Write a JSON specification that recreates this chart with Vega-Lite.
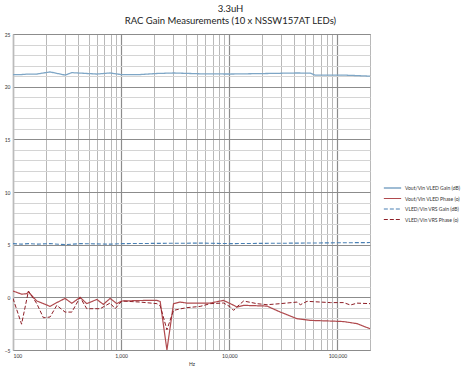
{
  "$schema": "https://vega.github.io/schema/vega-lite/v6.json",
  "width": 357,
  "height": 316,
  "autosize": {"type": "none"},
  "padding": {"left": 13, "top": 34, "right": 91, "bottom": 27},
  "background": "white",
  "title": {
    "text": ["3.3uH", "RAC Gain Measurements (10 x NSSW157AT LEDs)"],
    "font": "Lato",
    "fontSize": 9.5,
    "fontWeight": "normal",
    "color": "#222",
    "lineHeight": 12,
    "anchor": "middle",
    "dx": 39,
    "offset": 7
  },
  "config": {
    "view": {"stroke": "#999", "strokeWidth": 1},
    "font": "Lato"
  },
  "data": {
    "values": [
      {"f": 100, "g1": 21.14, "p1": 0.6, "g2": 5.1, "p2": -0.1},
      {"f": 120, "g1": 21.15, "p1": 0.3, "g2": 5.05, "p2": -2.55},
      {"f": 134, "p1": 0.35},
      {"f": 139, "g1": 21.2, "p1": 0.5, "g2": 5.1, "p2": 0.6},
      {"f": 166, "g1": 21.2, "p1": -0.35, "g2": 5.05, "p2": -0.6},
      {"f": 191, "p1": -0.6, "p2": -1.94},
      {"f": 220, "g1": 21.4, "p1": -0.86, "g2": 5.1, "p2": -1.87},
      {"f": 254, "p1": -0.5, "p2": -0.76},
      {"f": 303, "g1": 21.1, "p1": -0.1, "g2": 5.0, "p2": -1.4},
      {"f": 350, "g1": 21.33, "p1": -0.57, "p2": -1.4},
      {"f": 417, "p1": 0.0, "g2": 5.1, "p2": 0.0},
      {"f": 481, "p1": -0.6, "p2": -1.08},
      {"f": 596, "g1": 21.2, "p1": -0.2},
      {"f": 639, "p2": -1.08},
      {"f": 685, "p1": -0.67},
      {"f": 791, "g1": 21.3, "p1": -0.1, "g2": 5.05, "p2": -0.54},
      {"f": 880, "p2": -1.08},
      {"f": 912, "p1": -0.6},
      {"f": 1015, "g1": 21.14, "p1": -0.35, "g2": 5.1, "p2": -0.35},
      {"f": 1500, "g1": 21.15, "p1": -0.3, "p2": -0.45},
      {"f": 2141, "g1": 21.25, "p1": -0.29, "p2": -0.6},
      {"f": 2296, "p1": -0.4, "p2": -0.8},
      {"f": 2650, "p1": -5.0, "p2": -3.08},
      {"f": 3050, "g1": 21.3, "p1": -0.6, "p2": -1.24},
      {"f": 3516, "p1": -0.45, "p2": -1.1},
      {"f": 4055, "p1": -0.55, "p2": -0.98},
      {"f": 5383, "g1": 21.22, "p1": -0.55, "g2": 5.15, "p2": -0.86},
      {"f": 6664, "p1": -0.54, "p2": -0.6},
      {"f": 8855, "p1": -0.29, "p2": -0.54},
      {"f": 10200, "g1": 21.2, "p1": -0.6, "g2": 5.1, "p2": -0.9},
      {"f": 10960, "p1": -0.75, "p2": -1.24},
      {"f": 11780, "p1": -0.92, "p2": -0.9},
      {"f": 13560, "p1": -0.76, "p2": -0.35},
      {"f": 18030, "p1": -0.8, "p2": -0.6},
      {"f": 22330, "g1": 21.25, "p1": -0.83, "p2": -0.7},
      {"f": 29650, "p1": -1.4, "p2": -0.6},
      {"f": 42350, "g1": 21.3, "p1": -2.03, "p2": -0.45},
      {"f": 45400, "p2": -0.7},
      {"f": 52380, "p2": -0.38},
      {"f": 56250, "g1": 21.28, "p1": -2.19},
      {"f": 62000, "g1": 21.1},
      {"f": 86100, "p1": -2.25, "p2": -0.5},
      {"f": 113700, "g1": 21.1, "p1": -2.3, "p2": -0.5},
      {"f": 131900, "p1": -2.4, "p2": -0.73},
      {"f": 152000, "p1": -2.5, "p2": -0.55},
      {"f": 200000, "g1": 21.0, "p1": -2.98, "g2": 5.2, "p2": -0.6}
    ]
  },
  "transform": [
    {"fold": ["g1", "p1", "g2", "p2"], "as": ["s", "v"]},
    {"filter": "isValid(datum.v)"}
  ],
  "mark": {"type": "line", "clip": true},
  "encoding": {
    "x": {
      "field": "f",
      "type": "quantitative",
      "scale": {"type": "log", "domain": [100, 200000], "nice": false},
      "axis": {
        "title": "Hz",
        "titleFontSize": 5,
        "titleFontWeight": "normal",
        "titleColor": "#333",
        "titlePadding": 3,
        "values": [100, 200, 300, 400, 500, 600, 700, 800, 900, 1000, 2000, 3000, 4000, 5000, 6000, 7000, 8000, 9000, 10000, 20000, 30000, 40000, 50000, 60000, 70000, 80000, 90000, 100000, 200000],
        "labelExpr": "indexof([100,1000,10000,100000], datum.value) >= 0 ? format(datum.value, ',') : ''",
        "labelFontSize": 5,
        "labelColor": "#333",
        "labelPadding": 3,
        "labelOverlap": false,
        "ticks": false,
        "domain": false,
        "grid": true,
        "gridColor": {"condition": {"test": "indexof([100,1000,10000,100000], datum.value) >= 0", "value": "#8c8c8c"}, "value": "#b8b8b8"},
        "gridWidth": {"condition": {"test": "indexof([100,1000,10000,100000], datum.value) >= 0", "value": 1.2}, "value": 1}
      }
    },
    "y": {
      "field": "v",
      "type": "quantitative",
      "scale": {"domain": [-5, 25], "nice": false, "zero": false},
      "axis": {
        "title": null,
        "values": [-5, -4, -3, -2, -1, 0, 1, 2, 3, 4, 5, 6, 7, 8, 9, 10, 11, 12, 13, 14, 15, 16, 17, 18, 19, 20, 21, 22, 23, 24, 25],
        "labelExpr": "datum.value % 5 === 0 ? datum.label : ''",
        "labelFontSize": 5,
        "labelColor": "#333",
        "labelPadding": 3,
        "labelOverlap": false,
        "ticks": false,
        "domain": true,
        "domainColor": "#bbbbbb",
        "domainWidth": 1.5,
        "grid": true,
        "gridColor": {"condition": {"test": "datum.value % 5 === 0", "value": "#8c8c8c"}, "value": "#d4d4d4"},
        "gridWidth": {"condition": {"test": "datum.value % 5 === 0", "value": 1.2}, "value": 1}
      }
    },
    "color": {
      "field": "s",
      "type": "nominal",
      "scale": {"domain": ["g1", "p1", "g2", "p2"], "range": ["#7ea6c6", "#b04a4e", "#4a80b4", "#8e1f27"]},
      "legend": {
        "title": null,
        "orient": "none",
        "legendX": 370,
        "legendY": 150,
        "symbolType": "stroke",
        "symbolSize": 300,
        "symbolStrokeWidth": 1.5,
        "labelFontSize": 5,
        "labelColor": "#333",
        "labelLimit": 200,
        "labelOffset": 3,
        "clipHeight": 8,
        "rowPadding": 2.5,
        "labelExpr": "{'g1': 'Vout/Vin VLED Gain (dB)', 'p1': 'Vout/Vin VLED Phase (o)', 'g2': 'VLED/Vin VRS Gain (dB)', 'p2': 'VLED/Vin VRS Phase (o)'}[datum.label]"
      }
    },
    "strokeDash": {
      "field": "s",
      "type": "nominal",
      "scale": {"domain": ["g1", "p1", "g2", "p2"], "range": [[1, 0], [1, 0], [4, 2], [4, 2]]},
      "legend": null
    },
    "strokeWidth": {
      "field": "s",
      "type": "nominal",
      "scale": {"domain": ["g1", "p1", "g2", "p2"], "range": [1.3, 1, 1.6, 1.6]},
      "legend": null
    }
  }
}
